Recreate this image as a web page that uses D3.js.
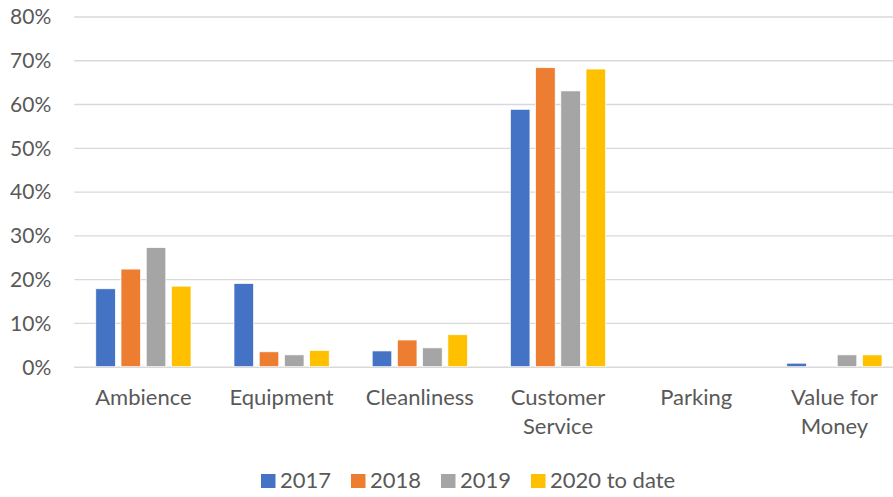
<!DOCTYPE html>
<html><head><meta charset="utf-8">
<script src="https://cdn.jsdelivr.net/npm/d3@7"></script>
<style>body{margin:0;background:#fff;overflow:hidden}svg{display:block}</style>
</head><body>
<script>
const categories = ["Ambience", "Equipment", "Cleanliness", "Customer Service", "Parking", "Value for Money"];
const categoryLines = [["Ambience"], ["Equipment"], ["Cleanliness"], ["Customer", "Service"], ["Parking"], ["Value for", "Money"]];
const seriesNames = ["2017", "2018", "2019", "2020 to date"];
const s2017 = [0.178, 0.190, 0.036, 0.588, 0, 0.008];
const s2018 = [0.223, 0.034, 0.061, 0.683, 0, 0];
const s2019 = [0.272, 0.027, 0.043, 0.630, 0, 0.027];
const s2020 = [0.184, 0.037, 0.073, 0.680, 0, 0.027];
const colors = ["#4472C4", "#ED7D31", "#A5A5A5", "#FFC000"];
const yTicks = [0, 0.1, 0.2, 0.3, 0.4, 0.5, 0.6, 0.7, 0.8];

const W = 893, H = 497;
const plotLeft = 74.3, plotRight = 903.5;
const m = {top: 16.5, bottom: 130.3};
const font = "Lato, 'Open Sans', sans-serif";
const svg = d3.select("body").append("svg").attr("width", W).attr("height", H);

const series = [s2017, s2018, s2019, s2020];
const x = d3.scaleBand().domain(categories).range([plotLeft, plotRight]).paddingInner(0).paddingOuter(0);
const y = d3.scaleLinear().domain([0, 0.8]).range([H - m.bottom, m.top]);
const bw = x.bandwidth();
const barW = bw * 0.1415, step = bw * 0.1825;
const groupW = barW + step * 3;
const xs = d3.scaleBand().domain(seriesNames).range([0, step * 4]).paddingInner(0);

// gridlines
const yAxis = d3.axisLeft(y).tickValues(yTicks).tickFormat(d3.format(".0%")).tickSize(-(W - plotLeft)).tickPadding(23);
const gy = svg.append("g").attr("transform", `translate(${plotLeft},0)`).call(yAxis);
gy.select(".domain").remove();
gy.selectAll(".tick line").attr("stroke", "#D9D9D9").attr("stroke-width", 1.4);
gy.selectAll(".tick text").attr("fill", "#595959").style("font-family", font).style("font-size", "21px").attr("dy", "0.35em");

// bars
series.forEach((vals, si) => {
  svg.append("g").selectAll("rect").data(categories.map((c, i) => ({c, v: vals[i]})))
    .enter().append("rect")
    .attr("x", d => x(d.c) + (bw - groupW) / 2 + xs(seriesNames[si]))
    .attr("width", barW)
    .attr("y", d => y(d.v))
    .attr("height", d => y(0) - y(d.v))
    .attr("fill", colors[si])
    .attr("stroke", d => d.v > 0 ? "#fff" : "none")
    .attr("stroke-width", 0.7);
});

// x labels
const gx = svg.append("g");
categories.forEach((c, i) => {
  const t = gx.append("text").attr("x", x(c) + bw / 2).attr("y", 405)
    .attr("text-anchor", "middle").attr("fill", "#595959")
    .style("font-family", font).style("font-size", "22px");
  categoryLines[i].forEach((ln, j) => {
    t.append("tspan").attr("x", x(c) + bw / 2).attr("dy", j === 0 ? 0 : 28.5).text(ln);
  });
});

// legend
const legX = [261, 351, 441, 531];
const lg = svg.append("g");
seriesNames.forEach((s, i) => {
  lg.append("rect").attr("x", legX[i]).attr("y", 474).attr("width", 14.5).attr("height", 14).attr("fill", colors[i]);
  lg.append("text").attr("x", legX[i] + 19).attr("y", 488).attr("fill", "#595959")
    .style("font-family", font).style("font-size", "22px").text(s);
});
</script>
</body></html>
